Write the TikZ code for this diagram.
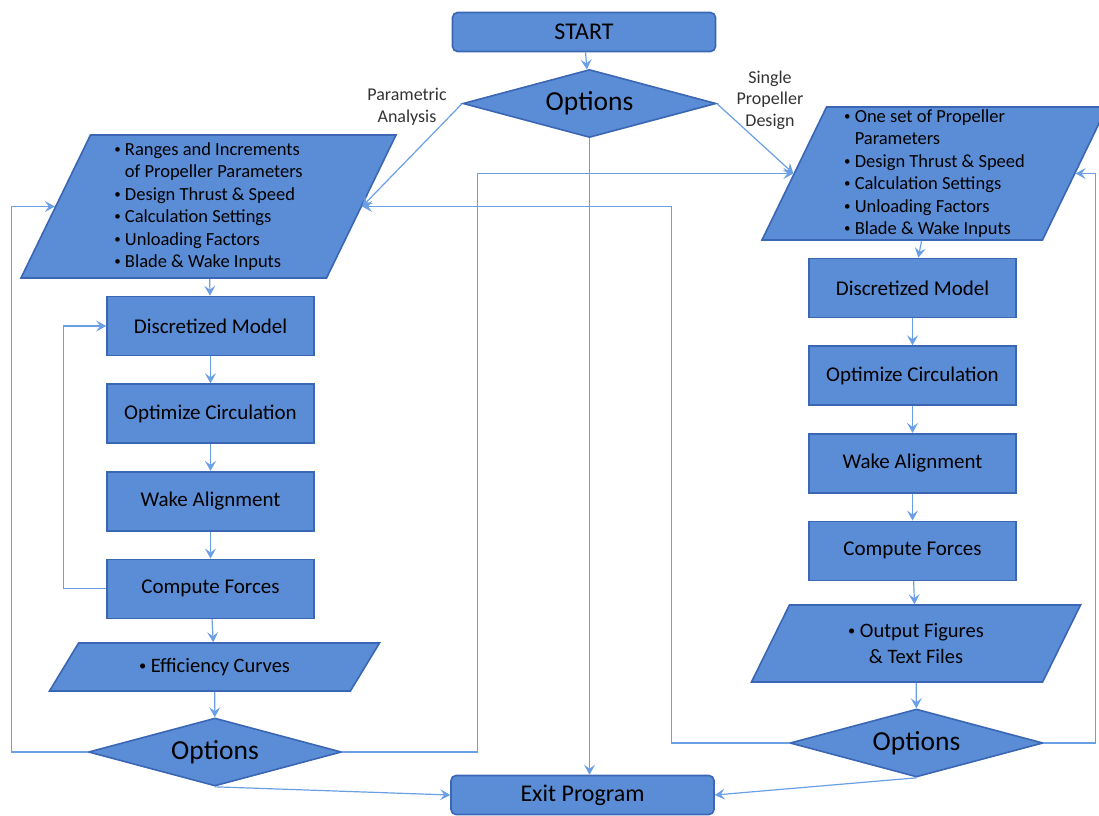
\documentclass[tikz,border=0pt]{standalone}
\usepackage{fontspec}
\setmainfont{Carlito}
\usepackage{tikz}
\usetikzlibrary{arrows.meta,positioning,shapes.geometric}
\definecolor{boxfill}{HTML}{5A8DD6}
\definecolor{boxline}{HTML}{3A66B4}
\definecolor{wire}{HTML}{6A9FE6}
\definecolor{labelgray}{HTML}{333333}
\newcommand{\pbul}{\raisebox{0.1em}{\scalebox{0.7}{\textbullet}}\ }

\begin{document}
\begin{tikzpicture}[x=1pt,y=-1pt,node distance=27pt, every node/.style={align=center,text=black},
  box/.style={draw=boxline,fill=boxfill,line width=1.6pt,minimum width=207pt,minimum height=59pt,inner sep=0pt,font=\fontsize{21}{24}\selectfont},
  term/.style={box,rounded corners=5pt,minimum width=263pt,minimum height=39pt,font=\fontsize{24}{28}\selectfont},
  dia/.style={diamond,aspect=3.8,draw=boxline,fill=boxfill,line width=1.6pt,inner sep=0pt,minimum width=253pt,minimum height=68pt,font=\fontsize{27.5}{30}\selectfont},
  para/.style={trapezium,trapezium stretches body,draw=boxline,fill=boxfill,line width=1.6pt,inner sep=2pt,font=\fontsize{18.5}{22.5}\selectfont},
  lbl/.style={text=labelgray,font=\fontsize{18}{21.5}\selectfont},
  arr/.style={-{Stealth[length=10pt,width=11pt,inset=4pt]},draw=wire,line width=1.2pt}]
  \useasboundingbox (0,0) rectangle (1099,815);
  \node[term] (start) at (584,32) {START};
  \node[dia] (opt) at (589.5,103.5) {Options};
  \node[lbl] (parLbl) at (407,107) {Parametric\\Analysis};
  \node[lbl] (sglLbl) at (770,100) {Single\\Propeller\\Design};
  \node[para,align=left,trapezium left angle=62.3,trapezium right angle=117.7,minimum width=375pt,minimum height=143pt] (inL) at (208.5,206.5)
    {\pbul Ranges and Increments\\\hphantom{\pbul}of Propeller Parameters\\\pbul Design Thrust \& Speed\\\pbul Calculation Settings\\\pbul Unloading Factors\\\pbul Blade \& Wake Inputs};
  \node[box] (dmL) at (210.5,326) {Discretized Model};
  \node[box,below=of dmL] (ocL) {Optimize Circulation};
  \node[box,below=of ocL] (waL) {Wake Alignment};
  \node[box,below=of waL] (cfL) {Compute Forces};
  \node[para,font=\fontsize{20.5}{26}\selectfont,trapezium left angle=36.4,trapezium right angle=143.6,minimum width=330pt,minimum height=48pt] (effL) at (214.5,667) {\pbul Efficiency Curves};
  \node[dia] (optL) at (215,752) {Options};
  \node[para,align=left,trapezium left angle=64,trapezium right angle=116,minimum width=345pt,minimum height=133pt] (inR) at (934.5,173.5)
    {\pbul One set of Propeller\\\hphantom{\pbul}Parameters\\\pbul Design Thrust \& Speed\\\pbul Calculation Settings\\\pbul Unloading Factors\\\pbul Blade \& Wake Inputs};
  \node[box] (dmR) at (912.5,288) {Discretized Model};
  \node[box,below=of dmR] (ocR) {Optimize Circulation};
  \node[box,below=of ocR] (waR) {Wake Alignment};
  \node[box,below=of waR] (cfR) {Compute Forces};
  \node[para,font=\fontsize{20.5}{26}\selectfont,trapezium left angle=49.4,trapezium right angle=130.6,minimum width=329pt,minimum height=77pt] (outR) at (916,643.5) {\pbul Output Figures\\\& Text Files};
  \node[dia] (optR) at (916.5,743) {Options};
  \node[term] (exitP) at (582.5,795) {Exit Program};
  \draw[arr] (start) -- (opt);
  \draw[arr] (opt.west) -- (inL.east);
  \draw[arr] (opt.east) -- (inR.west);
  \draw[arr] (opt.south) -- (opt.south |- exitP.north);
  \draw[arr] (inL) -- (dmL);
  \draw[arr] (dmL) -- (ocL);
  \draw[arr] (ocL) -- (waL);
  \draw[arr] (waL) -- (cfL);
  \draw[arr] (cfL) -- (effL);
  \draw[arr] (effL) -- (optL);
  \draw[arr] (cfL.west) -- ++(-43,0) |- (dmL.west);
  \draw[arr] (optL.west) -- ++(-76,0) |- (inL.west);
  \draw[arr] (optL.east) -- ++(135,0) |- (inR.west);
  \draw[arr] (optL.south) -- (exitP.west);
  \draw[arr] (inR) -- (dmR);
  \draw[arr] (dmR) -- (ocR);
  \draw[arr] (ocR) -- (waR);
  \draw[arr] (waR) -- (cfR);
  \draw[arr] (cfR) -- (outR);
  \draw[arr] (outR) -- (optR);
  \draw[arr] (optR.west) -- ++(-118,0) |- (inL.east);
  \draw[arr] (optR.east) -- ++(52,0) |- (inR.east);
  \draw[arr] (optR.south) -- (exitP.east);
\end{tikzpicture}
\end{document}
